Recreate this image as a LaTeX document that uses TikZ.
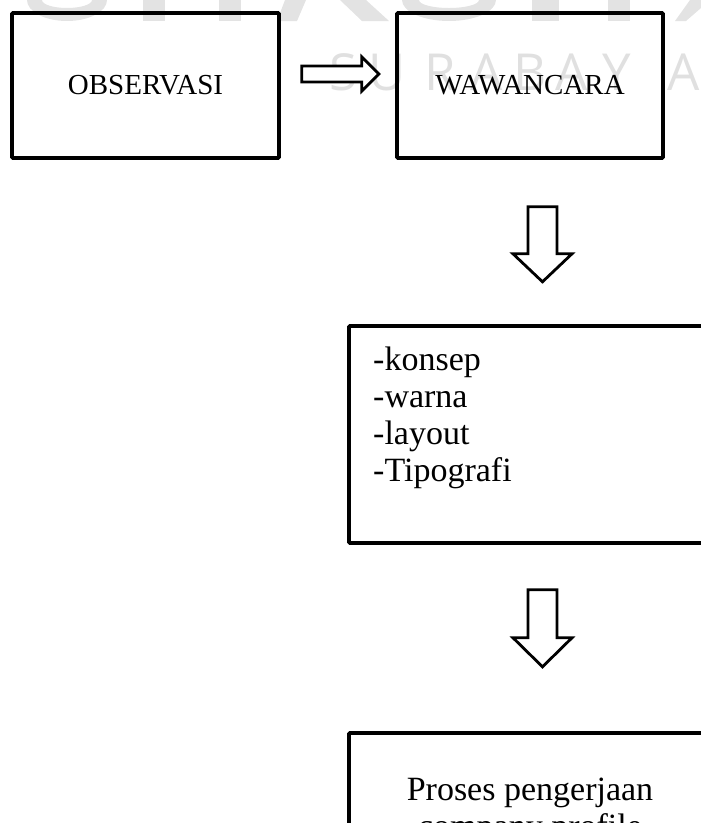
\documentclass[tikz,border=0pt]{standalone}
\usepackage{fontspec}
\setmainfont{Liberation Serif}
\newfontfamily\wmfont{Open Sans}
\usetikzlibrary{calc}

\tikzstyle{box}=[draw, line width=3.6pt, rounded corners=1pt, inner sep=0pt]
\tikzstyle{toptext}=[font=\fontsize{29}{34}\selectfont]
\tikzstyle{bodytext}=[font=\fontsize{34}{37}\selectfont, inner sep=0pt]
\tikzstyle{blockarrow}=[draw, line width=2.8pt, line join=miter, fill=white]
\tikzstyle{wm}=[fill=black!11, draw=none]
\tikzstyle{wmletter}=[font=\wmfont\fontsize{51}{51}\selectfont, text=black!12, anchor=base, inner sep=0pt]

\begin{document}
\begin{tikzpicture}[x=1pt, y=-1pt]
    \useasboundingbox (0,0) rectangle (701,823);
    \clip (0,0) rectangle (701,823);

    % watermark
    \fill[wm] (27,0) arc[start angle=180, end angle=0, x radius=40, y radius=21] -- (92,0)
        arc[start angle=0, end angle=180, x radius=25, y radius=8] -- cycle;
    \fill[wm] (402,0) arc[start angle=180, end angle=0, x radius=47, y radius=21] -- (479,0)
        arc[start angle=0, end angle=180, x radius=30, y radius=8] -- cycle;
    \foreach \xa/\xb in {143/165, 219/241, 532/559, 608/630}
        \fill[wm] (\xa,0) rectangle (\xb,21);
    \fill[wm] (285,0) -- (306,0) -- (297,21) -- (277,21) -- cycle;
    \fill[wm] (340,0) -- (366,0) -- (389,21) -- (362,21) -- cycle;
    \fill[wm] (690,0) -- (701,0) -- (701,8) -- (686,21) -- (675,21) -- cycle;
    \foreach \x/\c [count=\i] in {343/S, 387/U, 440/R, 487/A, 530/B, 572/A, 617/Y, 684/A}
        \node[wmletter] (wm\i) at (\x,90) {\c};

    % boxes
    \node[box, toptext, minimum width=267pt, minimum height=145pt] (obs) at (145.5,85.5) {OBSERVASI};
    \node[box, toptext, minimum width=266pt, minimum height=145pt] (waw) at (530,85.5) {WAWANCARA};
    \node[box, minimum width=362pt, minimum height=217pt] (spec) at (530,434.5) {};
    \node[box, minimum width=362pt, minimum height=217pt] (proc) at (530,841.5) {};

    \foreach \word [count=\i] in {-konsep, -warna, -layout, -Tipografi}
        \node[bodytext, anchor=base west] (item\i) at (373,333.7+37*\i) {\word};
    \node[bodytext, align=center, anchor=base] (proctext) at (530,837) {Proses pengerjaan\\company profile};

    % block arrows between the boxes
    \coordinate (a1) at ($(obs.east)+(21pt,11.5pt)$);
    \coordinate (a2) at ($(waw.south)+(12.5pt,-47pt)$);
    \coordinate (a3) at ($(spec.south)+(12.5pt,-45pt)$);
    \draw[blockarrow] (a1) ++(0,-8) -- ++(60,0) -- ++(0,-9) -- ++(17,17)
        -- ++(-17,17) -- ++(0,-9) -- ++(-60,0) -- cycle;
    \draw[blockarrow] (a2) ++(-14.5,0) -- ++(0,47) -- ++(-15,0) -- ++(29.5,28)
        -- ++(29.5,-28) -- ++(-15,0) -- ++(0,-47) -- cycle;
    \draw[blockarrow] (a3) ++(-14.5,0) -- ++(0,48) -- ++(-15,0) -- ++(29.5,29)
        -- ++(29.5,-29) -- ++(-15,0) -- ++(0,-48) -- cycle;

\end{tikzpicture}
\end{document}
